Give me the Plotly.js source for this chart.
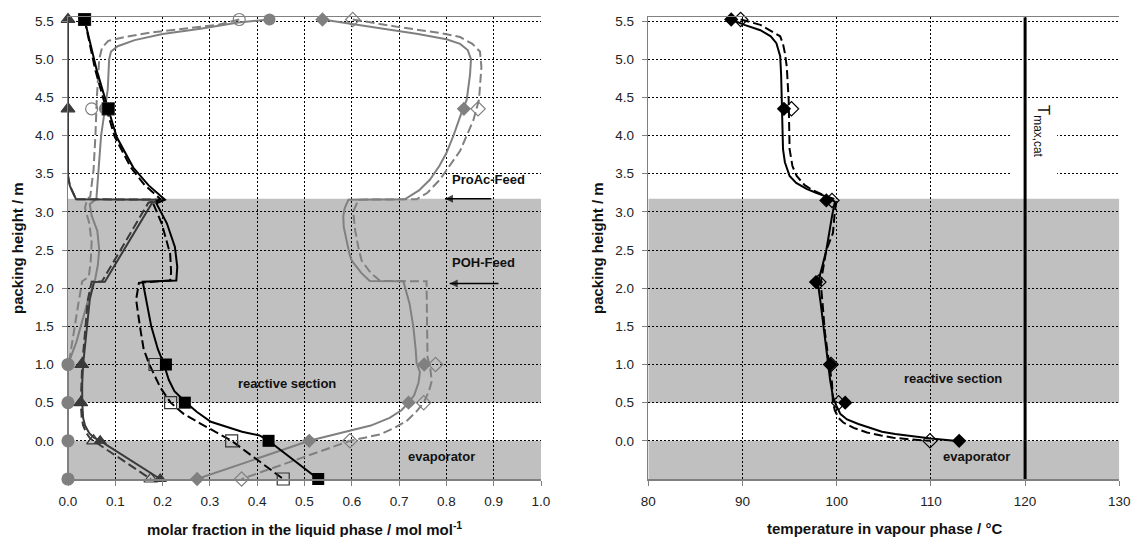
<!DOCTYPE html>
<html>
<head>
<meta charset="utf-8">
<script src="https://cdn.plot.ly/plotly-3.0.1.min.js"></script>
<style>html,body{margin:0;padding:0;background:#fff;}#chart{width:1132px;height:537px;}</style>
</head>
<body>
<div id="chart"></div>
<script>
// ---------- measured points (packing height / m) ----------
const measHeight = [5.52, 4.35, 1.0, 0.5, 0.0, -0.5];
const proProMeasA = [0.035, 0.085, 0.207, 0.247, 0.424, 0.529];
const proProMeasB = [0.035, 0.085, 0.184, 0.217, 0.346, 0.455];
const proAcMeasA = [0.0, 0.0, 0.029, 0.027, 0.068, 0.195];
const proAcMeasB = [0.0, 0.0, 0.029, 0.027, 0.054, 0.175];
const waterMeasA = [0.426, 0.078, 0.0, 0.0, 0.0, 0.0];
const waterMeasB = [0.362, 0.05, 0.0, 0.0, 0.0, 0.0];
const pohMeasA = [0.538, 0.837, 0.753, 0.72, 0.51, 0.273];
const pohMeasB = [0.602, 0.867, 0.777, 0.752, 0.596, 0.367];

const tempHeight = [5.52, 4.35, 3.15, 2.08, 1.0, 0.5, 0.0];
const tempMeasA = [88.8, 94.4, 98.9, 97.8, 99.3, 100.9, 113.0];
const tempMeasB = [89.8, 95.2, 99.5, 98.1, 99.4, 100.2, 109.9];

// ---------- simulated profiles ----------
const proProSimAH = [5.52, 5.2, 4.85, 4.41, 3.98, 3.58, 3.35, 3.16, 3.11, 2.85, 2.54, 2.28, 2.1, 2.085, 1.8, 1.5, 1.2, 1.0, 0.8, 0.65, 0.5, 0.38, 0.25, 0.12, 0.07, 0.0, -0.5];
const proProSimA  = [0.035, 0.048, 0.061, 0.082, 0.103, 0.138, 0.17, 0.205, 0.187, 0.209, 0.226, 0.231, 0.229, 0.158, 0.166, 0.176, 0.19, 0.203, 0.213, 0.225, 0.25, 0.272, 0.302, 0.368, 0.405, 0.424, 0.529];
const proProSimBH = [5.52, 5.2, 4.85, 4.41, 3.98, 3.58, 3.35, 3.17, 3.11, 2.85, 2.45, 2.21, 2.1, 2.07, 1.85, 1.5, 1.2, 1.0, 0.85, 0.7, 0.5, 0.35, 0.23, 0.12, 0.0, -0.5];
const proProSimB  = [0.035, 0.046, 0.058, 0.078, 0.099, 0.133, 0.162, 0.195, 0.18, 0.198, 0.216, 0.218, 0.216, 0.15, 0.144, 0.152, 0.16, 0.172, 0.183, 0.195, 0.217, 0.245, 0.279, 0.31, 0.346, 0.455];

const proAcSimAH = [5.52, 3.47, 3.34, 3.25, 3.165, 3.16, 3.12, 2.085, 2.08, 1.85, 1.4, 1.0, 0.75, 0.5, 0.3, 0.2, 0.1, 0.04, 0.0, -0.5];
const proAcSimA  = [0.0, 0.0, 0.004, 0.011, 0.017, 0.205, 0.178, 0.078, 0.055, 0.046, 0.038, 0.032, 0.03, 0.03, 0.032, 0.036, 0.045, 0.055, 0.068, 0.195];
const proAcSimBH = [5.52, 3.47, 3.34, 3.25, 3.165, 3.16, 3.12, 2.09, 2.085, 1.85, 1.4, 1.0, 0.5, 0.3, 0.2, 0.1, 0.03, 0.0, -0.5];
const proAcSimB  = [0.0, 0.0, 0.004, 0.011, 0.017, 0.195, 0.17, 0.072, 0.05, 0.042, 0.035, 0.03, 0.027, 0.029, 0.032, 0.039, 0.047, 0.054, 0.175];

const waterSimAH = [5.52, 5.48, 5.4, 5.33, 5.25, 5.17, 5.1, 5.0, 4.6, 4.35, 4.0, 3.5, 3.17, 3.1, 2.95, 2.75, 2.5, 2.3, 2.1, 1.9, 1.6, 1.3, 1.1, 1.0, 0.5, 0.0, -0.5];
const waterSimA  = [0.426, 0.36, 0.28, 0.2, 0.141, 0.105, 0.091, 0.087, 0.084, 0.078, 0.07, 0.064, 0.06, 0.046, 0.05, 0.062, 0.066, 0.063, 0.057, 0.045, 0.032, 0.018, 0.006, 0.0, 0.0, 0.0, 0.0];
const waterSimBH = [5.52, 5.45, 5.35, 5.29, 5.24, 5.15, 5.0, 4.5, 4.0, 3.55, 3.2, 3.16, 3.05, 2.85, 2.6, 2.35, 2.15, 2.09, 1.8, 1.4, 1.1, 1.0, 0.5, 0.0, -0.5];
const waterSimB  = [0.362, 0.318, 0.176, 0.12, 0.085, 0.072, 0.066, 0.061, 0.058, 0.054, 0.047, 0.04, 0.036, 0.045, 0.05, 0.048, 0.044, 0.03, 0.022, 0.012, 0.004, 0.0, 0.0, 0.0, 0.0];

const pohSimAH = [5.52, 5.42, 5.33, 5.26, 5.2, 5.12, 5.0, 4.8, 4.47, 4.3, 4.0, 3.77, 3.6, 3.42, 3.28, 3.165, 3.16, 3.05, 2.94, 2.8, 2.63, 2.45, 2.36, 2.2, 2.095, 2.09, 1.8, 1.5, 1.2, 1.02, 0.9, 0.76, 0.6, 0.5, 0.4, 0.3, 0.2, 0.125, 0.05, 0.0, -0.5];
const pohSimA  = [0.538, 0.64, 0.74, 0.8, 0.829, 0.845, 0.852, 0.85, 0.843, 0.832, 0.815, 0.8, 0.785, 0.765, 0.742, 0.712, 0.593, 0.585, 0.582, 0.583, 0.589, 0.595, 0.6, 0.62, 0.638, 0.709, 0.722, 0.73, 0.735, 0.737, 0.744, 0.741, 0.732, 0.72, 0.705, 0.68, 0.64, 0.589, 0.54, 0.51, 0.273];
const pohSimBH = [5.52, 5.42, 5.34, 5.29, 5.2, 5.1, 4.9, 4.47, 4.2, 3.8, 3.42, 3.25, 3.165, 3.16, 3.0, 2.76, 2.5, 2.36, 2.2, 2.095, 2.09, 1.5, 1.1, 0.95, 0.78, 0.65, 0.5, 0.38, 0.26, 0.17, 0.085, 0.0, -0.5];
const pohSimB  = [0.602, 0.7, 0.79, 0.829, 0.855, 0.871, 0.874, 0.869, 0.857, 0.829, 0.786, 0.76, 0.737, 0.614, 0.603, 0.607, 0.615, 0.621, 0.64, 0.66, 0.758, 0.76, 0.76, 0.766, 0.769, 0.763, 0.752, 0.736, 0.716, 0.69, 0.66, 0.596, 0.367];

const tempSimAH = [5.52, 5.45, 5.38, 5.3, 5.21, 5.1, 5.04, 4.8, 4.47, 4.0, 3.82, 3.65, 3.47, 3.38, 3.3, 3.25, 3.2, 3.15, 3.13, 2.94, 2.7, 2.5, 2.3, 2.07, 1.8, 1.5, 1.2, 1.02, 0.8, 0.58, 0.45, 0.35, 0.28, 0.22, 0.16, 0.12, 0.09, 0.05, 0.03, 0.0];
const tempSimA  = [88.8, 90.2, 91.9, 93.0, 93.6, 93.9, 94.0, 94.1, 94.16, 94.25, 94.3, 94.5, 95.0, 95.7, 96.8, 97.8, 98.9, 99.6, 99.8, 99.5, 99.2, 98.9, 98.5, 98.0, 98.3, 98.6, 98.9, 99.1, 99.3, 99.6, 100.0, 100.4, 101.1, 102.3, 103.8, 104.8, 106.2, 108.5, 110.0, 112.5];
const tempSimBH = [5.52, 5.45, 5.3, 5.2, 5.08, 4.9, 4.47, 3.82, 3.6, 3.47, 3.35, 3.28, 3.2, 3.16, 3.0, 2.72, 2.5, 2.3, 2.07, 1.8, 1.42, 1.1, 0.76, 0.5, 0.4, 0.3, 0.24, 0.17, 0.11, 0.07, 0.04, 0.02, 0.0];
const tempSimB  = [89.8, 91.9, 94.0, 94.3, 94.5, 94.7, 94.9, 95.0, 95.3, 95.75, 96.6, 97.5, 99.0, 100.0, 99.8, 99.6, 98.9, 98.6, 98.3, 98.5, 98.75, 99.1, 99.5, 99.6, 99.8, 100.2, 100.7, 101.8, 103.2, 104.7, 106.0, 107.8, 110.0];

const tMaxCat = [120, 120];
const tMaxCatH = [-0.5, 5.55];

// feed arrows (tail -> head)
const proAcFeedArrowX = [0.895, 0.797];
const proAcFeedArrowY = [3.17, 3.17];
const pohFeedArrowX = [0.91, 0.807];
const pohFeedArrowY = [2.06, 2.06];

const yTicks = [0, 0.5, 1.0, 1.5, 2.0, 2.5, 3.0, 3.5, 4.0, 4.5, 5.0, 5.5];
const yTickText = ['0.0','0.5','1.0','1.5','2.0','2.5','3.0','3.5','4.0','4.5','5.0','5.5'];

// ---------- styles ----------
const FONT = 'Liberation Sans, Arial, sans-serif';
const BLACK = '#000000', DARK = '#3a3a3a', GRAY = '#808080';
const DASH = '9px,4px';
function line(x, y, color, dash, xa, ya) {
  return {x: x, y: y, xaxis: xa || 'x', yaxis: ya || 'y', mode: 'lines', type: 'scatter',
    line: {color: color, width: 2, dash: dash ? DASH : 'solid'}, hoverinfo: 'skip', showlegend: false};
}
function marks(x, y, symbol, color, size, xa, ya) {
  const open = symbol.indexOf('open') >= 0;
  return {x: x, y: y, xaxis: xa || 'x', yaxis: ya || 'y', mode: 'markers', type: 'scatter',
    marker: {symbol: symbol, size: size, color: color, line: {color: color, width: open ? 1.2 : 0}},
    hoverinfo: 'skip', showlegend: false, cliponaxis: false};
}
function arrow(x, y) {
  return {x: x, y: y, xaxis: 'x', yaxis: 'y', mode: 'lines+markers', type: 'scatter',
    line: {color: BLACK, width: 1.5},
    marker: {symbol: 'arrow-left', size: [0, 8], color: BLACK, line: {width: 0}},
    hoverinfo: 'skip', showlegend: false};
}

const traces = [
  line(waterSimB, waterSimBH, GRAY, true),
  line(waterSimA, waterSimAH, GRAY, false),
  line(pohSimB, pohSimBH, GRAY, true),
  line(pohSimA, pohSimAH, GRAY, false),
  line(proAcSimB, proAcSimBH, DARK, true),
  line(proAcSimA, proAcSimAH, DARK, false),
  line(proProSimB, proProSimBH, BLACK, true),
  line(proProSimA, proProSimAH, BLACK, false),
  marks(waterMeasB, measHeight, 'circle-open', GRAY, 12),
  marks(pohMeasB, measHeight, 'diamond-open', GRAY, 11),
  marks(proAcMeasB, measHeight, 'triangle-up-open', DARK, 12),
  marks(proProMeasB, measHeight, 'square-open', '#333333', 12),
  marks(waterMeasA, measHeight, 'circle', GRAY, 12),
  marks(pohMeasA, measHeight, 'diamond', GRAY, 11),
  marks(proAcMeasA, measHeight, 'triangle-up', DARK, 12),
  marks(proProMeasA, measHeight, 'square', BLACK, 12),
  arrow(proAcFeedArrowX, proAcFeedArrowY),
  arrow(pohFeedArrowX, pohFeedArrowY),
  // right panel
  {x: tMaxCat, y: tMaxCatH, xaxis: 'x2', yaxis: 'y2', mode: 'lines', type: 'scatter',
   line: {color: BLACK, width: 3}, hoverinfo: 'skip', showlegend: false, cliponaxis: false},
  line(tempSimB, tempSimBH, BLACK, true, 'x2', 'y2'),
  line(tempSimA, tempSimAH, BLACK, false, 'x2', 'y2'),
  marks(tempMeasB, tempHeight, 'diamond-open', BLACK, 11, 'x2', 'y2'),
  marks(tempMeasA, tempHeight, 'diamond', BLACK, 11, 'x2', 'y2')
];

const tickFont = {family: FONT, size: 13.5, color: '#222'};
const titleFont = {family: FONT, size: 15, color: '#111', weight: 'bold'};
const annFont = {family: FONT, size: 13, color: '#111', weight: 'bold'};
const gridDash = '2px,2px';

function xAxis(domain, range, dtick, fmt, anchor) {
  return {domain: domain, range: range, dtick: dtick, tick0: range[0], tickformat: fmt,
    showgrid: true, gridcolor: '#000', gridwidth: 1, griddash: gridDash, zeroline: false,
    showline: true, linecolor: GRAY, linewidth: 1.5, mirror: true,
    ticks: 'outside', ticklen: 5, tickcolor: GRAY, tickfont: tickFont, anchor: anchor,
    ticklabelstandoff: 4, fixedrange: true};
}
function yAxis(domain, anchor) {
  return {domain: domain, range: [-0.5, 5.55], tickvals: yTicks, ticktext: yTickText,
    showgrid: true, gridcolor: '#000', gridwidth: 1, griddash: gridDash, zeroline: false,
    showline: true, linecolor: GRAY, linewidth: 1.5, mirror: false,
    ticks: 'outside', ticklen: 5, tickcolor: GRAY, tickfont: tickFont, anchor: anchor,
    ticklabelstandoff: 5, fixedrange: true};
}

const W = 1132, H = 537;
const yDom = [1 - 479 / H, 1 - 17.2 / H];
const layout = {
  width: W, height: H,
  margin: {l: 0, r: 0, t: 0, b: 0},
  paper_bgcolor: '#fff', plot_bgcolor: '#fff',
  showlegend: false,
  font: {family: FONT},
  xaxis: xAxis([68 / W, 541 / W], [0, 1.0], 0.1, '.1f', 'y'),
  yaxis: yAxis(yDom, 'x'),
  xaxis2: xAxis([648.3 / W, 1119.3 / W], [80, 130], 10, 'd', 'y2'),
  yaxis2: yAxis(yDom, 'x2'),
  shapes: [
    {type: 'rect', xref: 'x', yref: 'y', x0: 0, x1: 1, y0: -0.5, y1: 0, fillcolor: '#c0c0c0', line: {width: 0}, layer: 'below'},
    {type: 'rect', xref: 'x', yref: 'y', x0: 0, x1: 1, y0: 0.5, y1: 3.17, fillcolor: '#c0c0c0', line: {width: 0}, layer: 'below'},
    {type: 'rect', xref: 'x2', yref: 'y2', x0: 80, x1: 130, y0: -0.5, y1: 0, fillcolor: '#c0c0c0', line: {width: 0}, layer: 'below'},
    {type: 'rect', xref: 'x2', yref: 'y2', x0: 80, x1: 130, y0: 0.5, y1: 3.17, fillcolor: '#c0c0c0', line: {width: 0}, layer: 'below'},
    {type: 'rect', xref: 'x2', yref: 'y2', x0: 118.4, x1: 123.4, y0: 3.42, y1: 4.42, fillcolor: '#ffffff', line: {width: 0}, layer: 'between'}
  ],
  annotations: [
    // axis titles
    {xref: 'paper', yref: 'paper', x: 304.5 / W, y: 1 - 528 / H, text: 'molar fraction in the liquid phase / mol mol<sup>-1</sup>', showarrow: false, font: titleFont, xanchor: 'center', yanchor: 'middle'},
    {xref: 'paper', yref: 'paper', x: 884 / W, y: 1 - 528 / H, text: 'temperature in vapour phase / °C', showarrow: false, font: titleFont, xanchor: 'center', yanchor: 'middle'},
    {xref: 'paper', yref: 'paper', x: 18 / W, y: 1 - 248 / H, text: 'packing height / m', textangle: -90, showarrow: false, font: titleFont, xanchor: 'center', yanchor: 'middle'},
    {xref: 'paper', yref: 'paper', x: 598 / W, y: 1 - 248 / H, text: 'packing height / m', textangle: -90, showarrow: false, font: titleFont, xanchor: 'center', yanchor: 'middle'},
    // labels
    {xref: 'x', yref: 'y', x: 0.888, y: 3.42, text: 'ProAc-Feed', showarrow: false, font: annFont},
    {xref: 'x', yref: 'y', x: 0.878, y: 2.33, text: 'POH-Feed', showarrow: false, font: annFont},
    {xref: 'x', yref: 'y', x: 0.463, y: 0.755, text: 'reactive section', showarrow: false, font: annFont},
    {xref: 'x', yref: 'y', x: 0.79, y: -0.2, text: 'evaporator', showarrow: false, font: annFont},
    {xref: 'x2', yref: 'y2', x: 112.3, y: 0.82, text: 'reactive section', showarrow: false, font: annFont},
    {xref: 'x2', yref: 'y2', x: 114.8, y: -0.2, text: 'evaporator', showarrow: false, font: annFont},
    {xref: 'x2', yref: 'y2', x: 121.8, y: 4.06, text: 'T<sub>max,cat</sub>', textangle: 90, showarrow: false, font: {family: FONT, size: 17, color: '#111'}}
  ]
};

Plotly.newPlot('chart', traces, layout, {staticPlot: true, displayModeBar: false});
</script>
</body>
</html>
